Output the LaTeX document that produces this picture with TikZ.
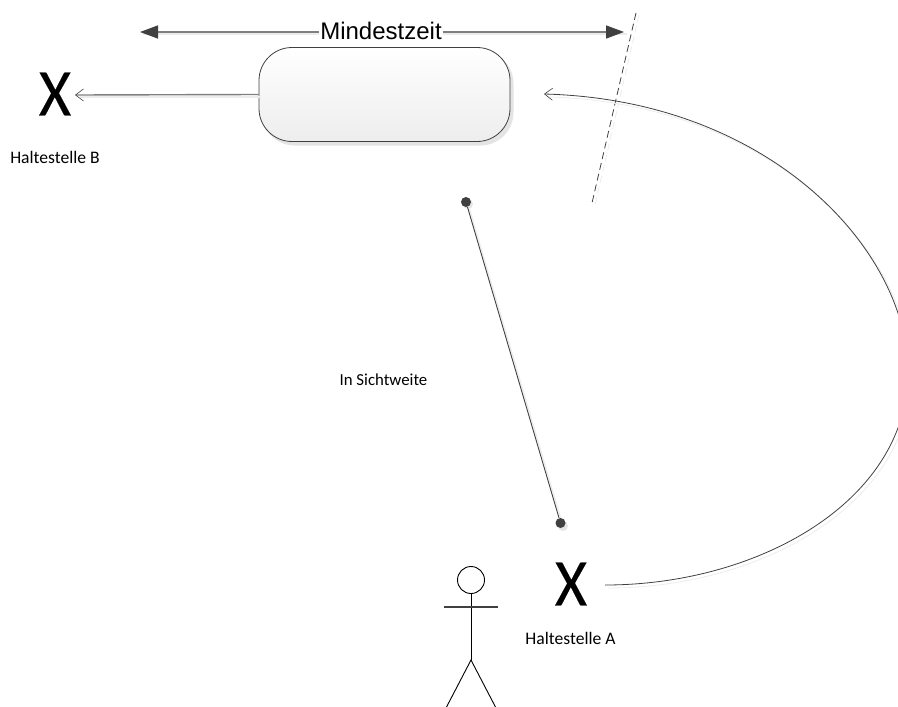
\documentclass[tikz,border=0pt]{standalone}
\usepackage{fontspec}
\setmainfont{Carlito}
\newfontfamily\arialfont{Liberation Sans}
\newfontfamily\xfont[FakeBold=0.2]{Carlito}
\usetikzlibrary{arrows.meta,shadows,positioning}
\definecolor{lineg}{HTML}{7F7F7F}
\definecolor{darkg}{HTML}{404040}
\definecolor{shad}{HTML}{E4E4E4}
\definecolor{shadl}{HTML}{ECECEC}
\tikzset{
  x=1pt,y=-1pt,
  stop/.style={inner sep=0pt,font=\xfont\fontsize{67}{67}\selectfont,text=black,xscale=0.93},
  lab/.style={inner sep=0pt,font=\fontsize{17.6}{20}\selectfont,text=black},
  bar/.style={draw=lineg,line width=1.4pt},
  openhead/.style={-{Straight Barb[length=8pt,width=12pt,line width=0.6pt,color=darkg]}},
  shadowline/.style={draw=shadl,line width=1.2pt},
  dot/.style={circle,fill=darkg,inner sep=0pt,minimum size=10pt},
  stick/.style={draw=black,line width=0.9pt},
}
\begin{document}
\begin{tikzpicture}
\useasboundingbox (0,0) rectangle (898,707);
\clip (0,0) rectangle (898,707);
% nodes
\fill[shad,rounded corners=33pt] (261.5,50.5) rectangle (513.5,145.5);
\node[draw=darkg,line width=0.8pt,rounded corners=33pt,top color=white,bottom color=black!7,
      minimum width=251pt,minimum height=94pt,inner sep=0pt] (box) at (384.5,94.5) {};
\node[stop] (xb) at (55,94) {X};
\node[stop] (xa) at (571,584) {X};
\node[lab] (hb) at (55,157.5) {Haltestelle B};
\node[lab] (ha) at (570.5,638.5) {Haltestelle A};
\node[lab,font=\fontsize{16.8}{20}\selectfont] (sw) at (383.5,380) {In Sichtweite};
\coordinate (mleft) at (140,32);
\coordinate (mright) at (624,32);
\coordinate (dtop) at (636,13);
\coordinate (dbot) at (592,203);
\coordinate (astart) at (605,585);
\coordinate (aend) at (544,94);
\coordinate (bend) at (75,95);
% Mindestzeit dimension line
\draw[shadowline] (143,34) -- (627,34);
\draw[bar,{Triangle[length=18pt,width=13pt,color=darkg]}-{Triangle[length=18pt,width=13pt,color=darkg]}] (mleft) -- (mright);
\node[inner sep=1pt,fill=white,font=\arialfont\fontsize{24}{26}\selectfont] (mz) at (381,31) {Mindestzeit};
% arrow to B
\draw[shadowline] (261,97) -- (80,97);
\draw[bar,openhead] (box.west) -- (bend);
% dashed boundary
\draw[draw=shadl,line width=0.8pt,dash pattern=on 7pt off 4pt] (639,15) -- (595,205);
\draw[draw=darkg,line width=0.8pt,dash pattern=on 7pt off 4pt] (dtop) -- (dbot);
% long curve
\draw[draw=shadl,line width=0.8pt] (608,588) .. controls (763,588) and (911,503) .. (911,375) .. controls (911,253) and (773,103) .. (548,97);
\draw[draw=darkg,line width=0.8pt,openhead] (astart) .. controls (760,585) and (908,500) .. (908,372) .. controls (908,250) and (770,100) .. (aend);
% sight line
\node[circle,fill=shad,inner sep=0pt,minimum size=10pt] (ds1) at (468,204) {};
\node[circle,fill=shad,inner sep=0pt,minimum size=10pt] (ds2) at (563,526) {};
\draw[shadowline] (ds1) -- (ds2);
\node[dot] (d1) at (466,202) {};
\node[dot] (d2) at (560.5,523) {};
\draw[draw=darkg,line width=0.9pt] (d1) -- (d2);
% stick figure
\node[circle,draw=black,line width=0.9pt,minimum size=27pt,inner sep=0pt] (head) at (471,580) {};
\coordinate (hip) at (471,660);
\coordinate (armL) at (444,607);
\coordinate (armR) at (498,607);
\coordinate (legL) at (446,708);
\coordinate (legR) at (496,708);
\draw[stick] (head.south) -- (hip);
\draw[draw=darkg,line width=1.3pt] (armL) -- (armR);
\draw[stick] (legL) -- (hip) -- (legR);
\end{tikzpicture}
\end{document}
